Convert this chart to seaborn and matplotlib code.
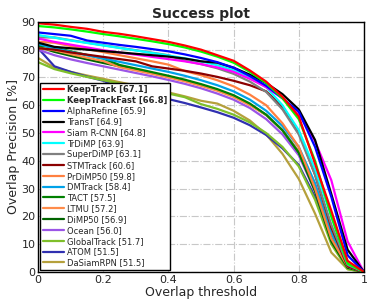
import numpy as np
import pandas as pd
import seaborn as sns
import matplotlib
matplotlib.use("Agg")
import matplotlib.pyplot as plt

# overlap thresholds (x axis)
thresholds = [0.0, 0.05, 0.1, 0.15, 0.2, 0.25, 0.3, 0.35, 0.4, 0.45, 0.5,
              0.55, 0.6, 0.65, 0.7, 0.75, 0.8, 0.85, 0.9, 0.95, 1.0]

trackers = ["KeepTrack", "KeepTrackFast", "AlphaRefine", "TransT", "Siam R-CNN",
            "TrDiMP", "SuperDiMP", "STMTrack", "PrDiMP50", "DMTrack", "TACT",
            "LTMU", "DiMP50", "Ocean", "GlobalTrack", "ATOM", "DaSiamRPN"]
auc = [67.1, 66.8, 65.9, 64.9, 64.8, 63.9, 63.1, 60.6, 59.8, 58.4, 57.5,
       57.2, 56.9, 56.0, 51.7, 51.5, 51.5]
colors = ["#ff0000", "#00ff00", "#0000ff", "#000000", "#ff00ff", "#00ffff",
          "#808080", "#8b0000", "#ff8040", "#00a2e8", "#008000", "#ff8c4a",
          "#006400", "#9b55e6", "#7fbf2a", "#3030b0", "#b5a03c"]

# success values [%]
keeptrack = [89.5, 89, 88.2, 87.5, 86.4, 85.7, 84.8, 83.8, 82.8, 81.5, 80,
             78, 76, 72.5, 68.5, 63, 56, 39, 22, 4, 0]
keeptrackfast = [88.5, 88, 87.3, 86.5, 85.6, 84.8, 83.9, 83, 82, 80.8, 79.3,
                 77.5, 75.3, 72, 68, 62.5, 55, 40, 20, 3, 0]
alpharefine = [86.2, 85.6, 85, 83.3, 82.5, 81.7, 81, 80.2, 79.4, 78.3, 77,
               75.5, 73.5, 70.5, 67, 62.5, 57.7, 45, 27, 6, 0]
transt = [82.5, 81, 80.5, 80, 79.5, 79, 78.5, 78, 77.5, 76.8, 75.8,
          75.3, 73.5, 71, 68, 64, 58.5, 47.5, 28, 8, 0]
siamrcnn = [84, 82.8, 81.8, 80.8, 79.8, 79, 78.2, 77.4, 76.6, 75.8, 74.8,
            73.6, 72, 69.5, 66.5, 62.5, 57, 47, 33, 11, 0]
trdimp = [85.3, 84.3, 83.3, 82.4, 81.5, 80.6, 79.7, 78.8, 77.9, 76.9, 75.8,
          74.4, 72.6, 70, 66.5, 60, 51, 37, 20, 3, 0]
superdimp = [84.4, 84.4, 83.4, 82.5, 81.6, 80.7, 79.8, 78.9, 78, 76, 74.8,
             73.3, 71.3, 68.5, 64.8, 58.5, 49.5, 35, 17, 2.5, 0]
stmtrack = [80.5, 80, 79, 78.2, 77.4, 76.6, 75.8, 74, 73.2, 72.4, 71.4,
            70.2, 68.8, 67.2, 65, 59.5, 50.5, 35, 16, 2, 0]
prdimp50 = [82.8, 82.5, 81.3, 80.2, 79.1, 78, 76.9, 75.8, 74.6, 72.3, 70.8,
            69, 66.8, 63.8, 60, 53.5, 45, 30, 12, 2, 0]
dmtrack = [82, 80.5, 79.2, 78, 76.8, 75.6, 74.4, 73.2, 72, 70.6, 69,
           67.2, 65, 62, 58, 52.5, 45, 32, 14, 2, 0]
tact = [81.5, 80.8, 79.4, 78.1, 76.8, 74.5, 73.2, 71.9, 70.6, 69.2, 67.6,
        65.8, 63.6, 60.6, 56.6, 51, 43, 30, 12, 2, 0]
ltmu = [80.5, 79.8, 78.4, 77.1, 75.9, 73.7, 72.5, 71.3, 70, 68.6, 67,
        65.2, 63, 60, 56.5, 51, 43.5, 31, 14, 2.5, 0]
dimp50 = [81, 79.2, 77.8, 76.5, 75.2, 74, 72.8, 71.6, 70.3, 68.9, 67.3,
          65.5, 63.3, 60.3, 56.5, 51, 43, 29, 11, 1.5, 0]
ocean = [80, 78, 76.5, 75.2, 74, 72.8, 71.6, 70.4, 69.1, 67.7, 66.1,
         64.2, 62, 59, 55, 49.5, 42, 29, 12, 2, 0]
globaltrack = [75.5, 73, 71.5, 70.2, 69, 67.8, 66.6, 65.4, 64.2, 62.9, 60.4,
               58.7, 56.6, 53.8, 50, 45, 38, 26, 10, 1, 0]
atom = [80.5, 74, 72, 70.3, 68.8, 66.4, 65, 63.6, 62.2, 60.8, 59.2,
        57.5, 55.5, 52.8, 49.3, 44.5, 38.5, 27, 11.5, 2, 0]
dasiamrpn = [77, 73.5, 72, 70.7, 69.5, 68.3, 67.1, 65.9, 64.6, 63.2, 61.6,
             60.6, 58, 54.5, 49.5, 42.5, 33.5, 21, 7, 1, 0]

curves = [keeptrack, keeptrackfast, alpharefine, transt, siamrcnn, trdimp,
          superdimp, stmtrack, prdimp50, dmtrack, tact, ltmu, dimp50, ocean,
          globaltrack, atom, dasiamrpn]

labels = ["%s [%.1f]" % (t, a) for t, a in zip(trackers, auc)]
rows = []
for lab, vals in zip(labels, curves):
    for t, v in zip(thresholds, vals):
        rows.append({"threshold": t, "precision": v, "tracker": lab})
df = pd.DataFrame(rows)

sns.set_style("white")
fig = plt.figure(figsize=(3.74, 3.08), dpi=100)
ax = fig.add_axes([0.102, 0.117, 0.871, 0.812])

# draw in reverse so the best trackers sit on top
for lab, col in reversed(list(zip(labels, colors))):
    sns.lineplot(data=df[df["tracker"] == lab], x="threshold", y="precision",
                 color=col, linewidth=1.6, label=lab, ax=ax)

ax.set_xlim(0, 1)
ax.set_ylim(0, 90)
ax.set_xticks([0, 0.2, 0.4, 0.6, 0.8, 1])
ax.set_xticklabels(["0", "0.2", "0.4", "0.6", "0.8", "1"])
ax.set_yticks(range(0, 91, 10))
ax.tick_params(labelsize=8, length=0, pad=2)
ax.grid(True, linestyle="-.", color="#c8c8c8", linewidth=0.8)
for s in ax.spines.values():
    s.set_color("black")
    s.set_linewidth(1.0)

ax.set_title("Success plot", fontsize=10, fontweight="bold", pad=3)
ax.set_xlabel("Overlap threshold", fontsize=9, labelpad=1)
ax.set_ylabel("Overlap Precision [%]", fontsize=9, labelpad=1)

handles, labs = ax.get_legend_handles_labels()
order = [labs.index(l) for l in labels]
leg = ax.legend([handles[i] for i in order], labels, loc="lower left",
                fontsize=6.0, frameon=True, fancybox=False, framealpha=1,
                edgecolor="black", handlelength=2.6, handletextpad=0.3,
                labelspacing=0.22, borderpad=0.3, borderaxespad=0.25)
leg.get_frame().set_linewidth(1.0)
for i, txt in enumerate(leg.get_texts()):
    if i < 2:
        txt.set_fontweight("bold")

fig.savefig("out.png", dpi=100)
